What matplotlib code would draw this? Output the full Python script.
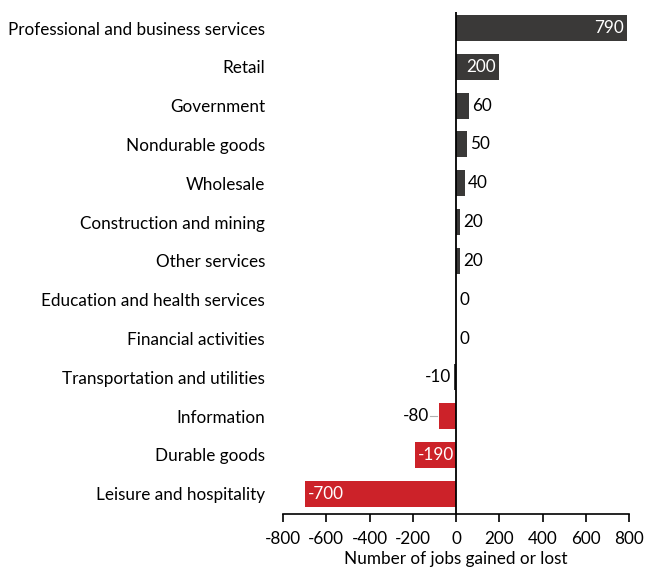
import numpy as np
import matplotlib.pyplot as plt

plt.rcParams['font.family'] = ['Lato', 'DejaVu Sans']

sectors = ['Professional and business services', 'Retail', 'Government',
           'Nondurable goods', 'Wholesale', 'Construction and mining',
           'Other services', 'Education and health services',
           'Financial activities', 'Transportation and utilities',
           'Information', 'Durable goods', 'Leisure and hospitality']
jobs = [790, 200, 60, 50, 40, 20, 20, 0, 0, -10, -80, -190, -700]
xticks = [-800, -600, -400, -200, 0, 200, 400, 600, 800]

dark = '#3a3938'
red = '#cc2229'

fig = plt.figure(figsize=(6.46, 5.69), dpi=100)
ax = fig.add_axes([0.438, 0.0967, 0.536, 0.882])

n = len(sectors)
ypos = np.arange(n)[::-1]
colors = [red if v <= -50 else dark for v in jobs]
ax.barh(ypos, jobs, height=0.67, color=colors, zorder=2)
ax.axvline(0, color='black', lw=1.3, zorder=3)

fs = 12.3
for y, v in zip(ypos, jobs):
    if v >= 100:
        ax.text(v - 14, y, str(v), color='white', ha='right', va='center', fontsize=fs)
    elif v <= -100:
        ax.text(v + 14, y, str(v), color='white', ha='left', va='center', fontsize=fs)
    elif v == -80:
        ax.plot([v - 40, v - 8], [y, y], color='#b0b0b0', lw=0.8, zorder=1)
        ax.text(v - 45, y, str(v), color='black', ha='right', va='center', fontsize=fs)
    elif v < 0:
        ax.text(v - 12, y, str(v), color='black', ha='right', va='center', fontsize=fs)
    else:
        ax.text(v + 15, y, str(v), color='black', ha='left', va='center', fontsize=fs)

ax.set_xlim(-800, 800)
ax.set_ylim(-0.52, n - 0.59)
ax.set_xticks(xticks)
ax.set_xticklabels([str(t) for t in xticks])
ax.set_yticks(ypos)
ax.set_yticklabels(sectors, fontsize=fs)
ax.tick_params(axis='y', length=0, pad=13)
ax.tick_params(axis='x', labelsize=fs, length=6, width=1.2, direction='out', pad=6)
for s in ['top', 'right', 'left']:
    ax.spines[s].set_visible(False)
ax.spines['bottom'].set_linewidth(1.2)
ax.set_xlabel('Number of jobs gained or lost', fontsize=fs, labelpad=3)

fig.savefig('out.png', dpi=100)
